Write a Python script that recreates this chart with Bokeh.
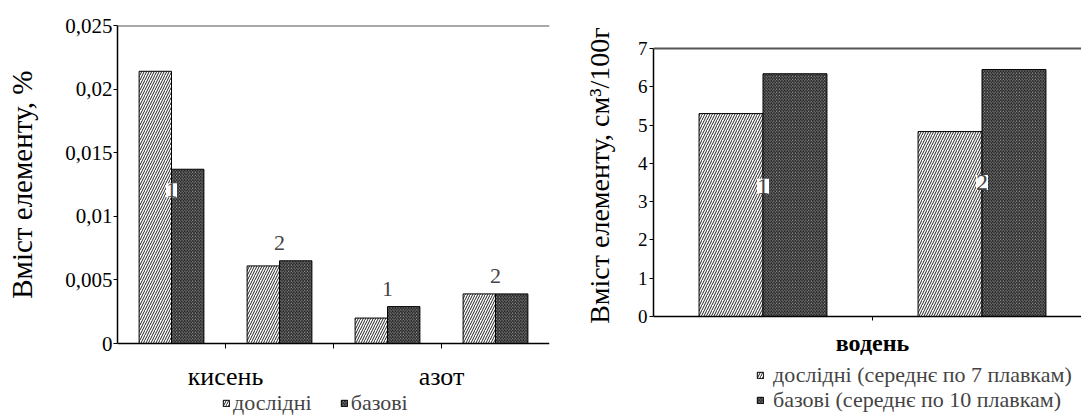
import numpy as np
from bokeh.plotting import figure
from bokeh.models import Range1d, FixedTicker, Label, Span, Legend, LegendItem, ColumnDataSource
from bokeh.layouts import row
from bokeh.embed import file_html
from bokeh.resources import INLINE

# ---------------- data ----------------
# left chart: oxygen / nitrogen content, %
left_groups = ["кисень 1", "кисень 2", "азот 1", "азот 2"]
left_group_numbers = ["1", "2", "1", "2"]
left_elements = ["кисень", "азот"]
left_exp = [0.0214, 0.0061, 0.0020, 0.0039]
left_base = [0.0137, 0.0065, 0.0029, 0.0039]
left_yticks = [0, 0.005, 0.01, 0.015, 0.02, 0.025]
left_ytick_labels = ["0", "0,005", "0,01", "0,015", "0,02", "0,025"]
left_legend = ["дослідні", "базові"]
left_ylabel = "Вміст елементу, %"

# right chart: hydrogen content, cm3/100g
right_groups = ["1", "2"]
right_element = "водень"
right_exp = [5.30, 4.83]
right_base = [6.34, 6.45]
right_yticks = [0, 1, 2, 3, 4, 5, 6, 7]
right_legend = ["дослідні (середнє по 7 плавкам)", "базові (середнє по 10 плавкам)"]
right_ylabel = "Вміст елементу, см³/100г"

FONT = "Liberation Serif"
H = 416
NBSP = "\u00a0"

EXP_STYLE = dict(fill_color="white", line_color="black", line_width=1,
                 hatch_pattern="/", hatch_color="#222222", hatch_scale=5, hatch_weight=1)
BASE_STYLE = dict(fill_color="#b8b8b8", line_color="black", line_width=1,
                  hatch_pattern="\\", hatch_color="#111111", hatch_scale=3.2, hatch_weight=1)


def style_common(p):
    p.grid.visible = False
    p.outline_line_color = None
    p.background_fill_color = "white"
    p.border_fill_color = "white"
    for ax in (p.xaxis, p.yaxis):
        ax.axis_line_color = "black"
        ax.axis_line_width = 1.5
        ax.major_tick_line_color = "black"
        ax.major_tick_in = 0
        ax.minor_tick_line_color = None
        ax.major_label_text_font = FONT
        ax.major_label_text_color = "black"
        ax.axis_label_text_font = FONT
        ax.axis_label_text_font_style = "normal"
        ax.axis_label_text_color = "black"


def padded_range(vmax, top_px, axis_top_px, axis_zero_px, h):
    # frame spans the whole figure height below top_px; value axis runs from axis_zero_px up to axis_top_px
    per_px = vmax / (axis_zero_px - axis_top_px)
    return Range1d(-(h - axis_zero_px) * per_px, vmax + (axis_top_px - top_px) * per_px)


def one_item_legend(label, renderer, x, y, size):
    return Legend(items=[LegendItem(label=label, renderers=[renderer])], location=(x, y),
                  glyph_width=8, glyph_height=8, label_text_font=FONT, label_text_font_size=size,
                  label_height=18, border_line_color=None, background_fill_alpha=0, padding=0, margin=0,
                  label_standoff=9)


# ---------------- left chart ----------------
n = len(left_groups)
lc = np.arange(n) + 0.5
bw = 0.3
ymax1 = left_yticks[-1]
p1 = figure(width=552, height=H, x_range=Range1d(0, n),
            y_range=padded_range(ymax1, 25, 25, 343, H),
            output_backend="svg", toolbar_location=None,
            min_border_left=117, min_border_right=3, min_border_top=25, min_border_bottom=0)
style_common(p1)
src1 = ColumnDataSource(dict(xe=lc - bw / 2, xb=lc + bw / 2, exp=left_exp, base=left_base))
r1e = p1.vbar(x="xe", top="exp", width=bw, source=src1, **EXP_STYLE)
r1b = p1.vbar(x="xb", top="base", width=bw, source=src1, **BASE_STYLE)

bounds = list(range(1, n))
p1.xaxis.fixed_location = 0
p1.xaxis.ticker = FixedTicker(ticks=bounds)
ov = {b: "" for b in bounds}
for k, name in enumerate(left_elements):
    ov[2 * k + 1] = name
p1.xaxis.major_label_overrides = ov
p1.xaxis.major_tick_out = 5
p1.xaxis.major_label_standoff = 13
p1.xaxis.major_label_text_font_size = "26px"

p1.yaxis.bounds = (0, ymax1)
p1.yaxis.ticker = FixedTicker(ticks=left_yticks)
p1.yaxis.major_label_overrides = {t: s for t, s in zip(left_yticks, left_ytick_labels)}
p1.yaxis.major_tick_out = 4
p1.yaxis.major_label_standoff = 1
p1.yaxis.major_label_text_font_size = "21px"
# leading no-break spaces lift the label so that it is centred on the value axis, not the whole frame
p1.yaxis.axis_label = NBSP * 10 + left_ylabel
p1.yaxis.axis_label_text_font_size = "29px"
p1.yaxis.axis_label_standoff = 24

p1.add_layout(Span(location=ymax1, dimension="width", line_color="#555555", line_width=2))

for i, num in enumerate(left_group_numbers):
    if i == 0:
        lab = Label(x=lc[i], y=left_base[i], y_offset=-21, text=num, background_fill_color="white")
    else:
        lab = Label(x=lc[i], y=max(left_exp[i], left_base[i]), y_offset=18, text=num)
    lab.text_align = "center"
    lab.text_baseline = "middle"
    lab.text_font = FONT
    lab.text_font_size = "22px"
    p1.add_layout(lab)

leg1 = Legend(items=[LegendItem(label=left_legend[0], renderers=[r1e]),
                     LegendItem(label=left_legend[1], renderers=[r1b])],
              location=(105, 0), orientation="horizontal",
              glyph_width=8, glyph_height=8, label_text_font=FONT, label_text_font_size="22px",
              label_height=18, border_line_color=None, background_fill_alpha=0, padding=0, margin=0,
              spacing=28, label_standoff=3)
p1.add_layout(leg1)

# ---------------- right chart ----------------
m = len(right_groups)
rc = np.arange(m) + 0.5
rbw = 0.292
ymax2 = right_yticks[-1]
p2 = figure(width=529, height=H, x_range=Range1d(0, 428 / 219),
            y_range=padded_range(ymax2, 25, 48, 316, H),
            output_backend="svg", toolbar_location=None,
            min_border_left=101, min_border_right=0, min_border_top=25, min_border_bottom=0)
style_common(p2)
src2 = ColumnDataSource(dict(xe=rc - rbw / 2, xb=rc + rbw / 2, exp=right_exp, base=right_base))
r2e = p2.vbar(x="xe", top="exp", width=rbw, source=src2, **EXP_STYLE)
r2b = p2.vbar(x="xb", top="base", width=rbw, source=src2, **BASE_STYLE)

p2.xaxis.fixed_location = 0
p2.xaxis.ticker = FixedTicker(ticks=[1])
p2.xaxis.major_label_overrides = {1: right_element}
p2.xaxis.major_tick_out = 4
p2.xaxis.major_label_standoff = 9
p2.xaxis.major_label_text_font_size = "24px"
p2.xaxis.major_label_text_font_style = "bold"

p2.yaxis.bounds = (0, ymax2)
p2.yaxis.ticker = FixedTicker(ticks=right_yticks)
p2.yaxis.major_tick_out = 4
p2.yaxis.major_label_standoff = 2
p2.yaxis.major_label_text_font_size = "19px"
p2.yaxis.axis_label = NBSP * 13 + right_ylabel
p2.yaxis.axis_label_text_font_size = "28px"
p2.yaxis.axis_label_standoff = 20

p2.add_layout(Span(location=ymax2, dimension="width", line_color="#555555", line_width=2))

right_label_y = [3.4, 3.5]
for i, num in enumerate(right_groups):
    lab = Label(x=rc[i], y=right_label_y[i], text=num, background_fill_color="white",
                text_align="center", text_baseline="middle", text_font=FONT, text_font_size="24px")
    p2.add_layout(lab)

# two single-item legends, so the two lines can sit as close as in the original
p2.add_layout(one_item_legend(right_legend[0], r2e, 103, 28, "22px"))
p2.add_layout(one_item_legend(right_legend[1], r2b, 103, 3, "22px"))

layout = row(p1, p2)
open("out.html", "w").write(file_html(layout, INLINE))
